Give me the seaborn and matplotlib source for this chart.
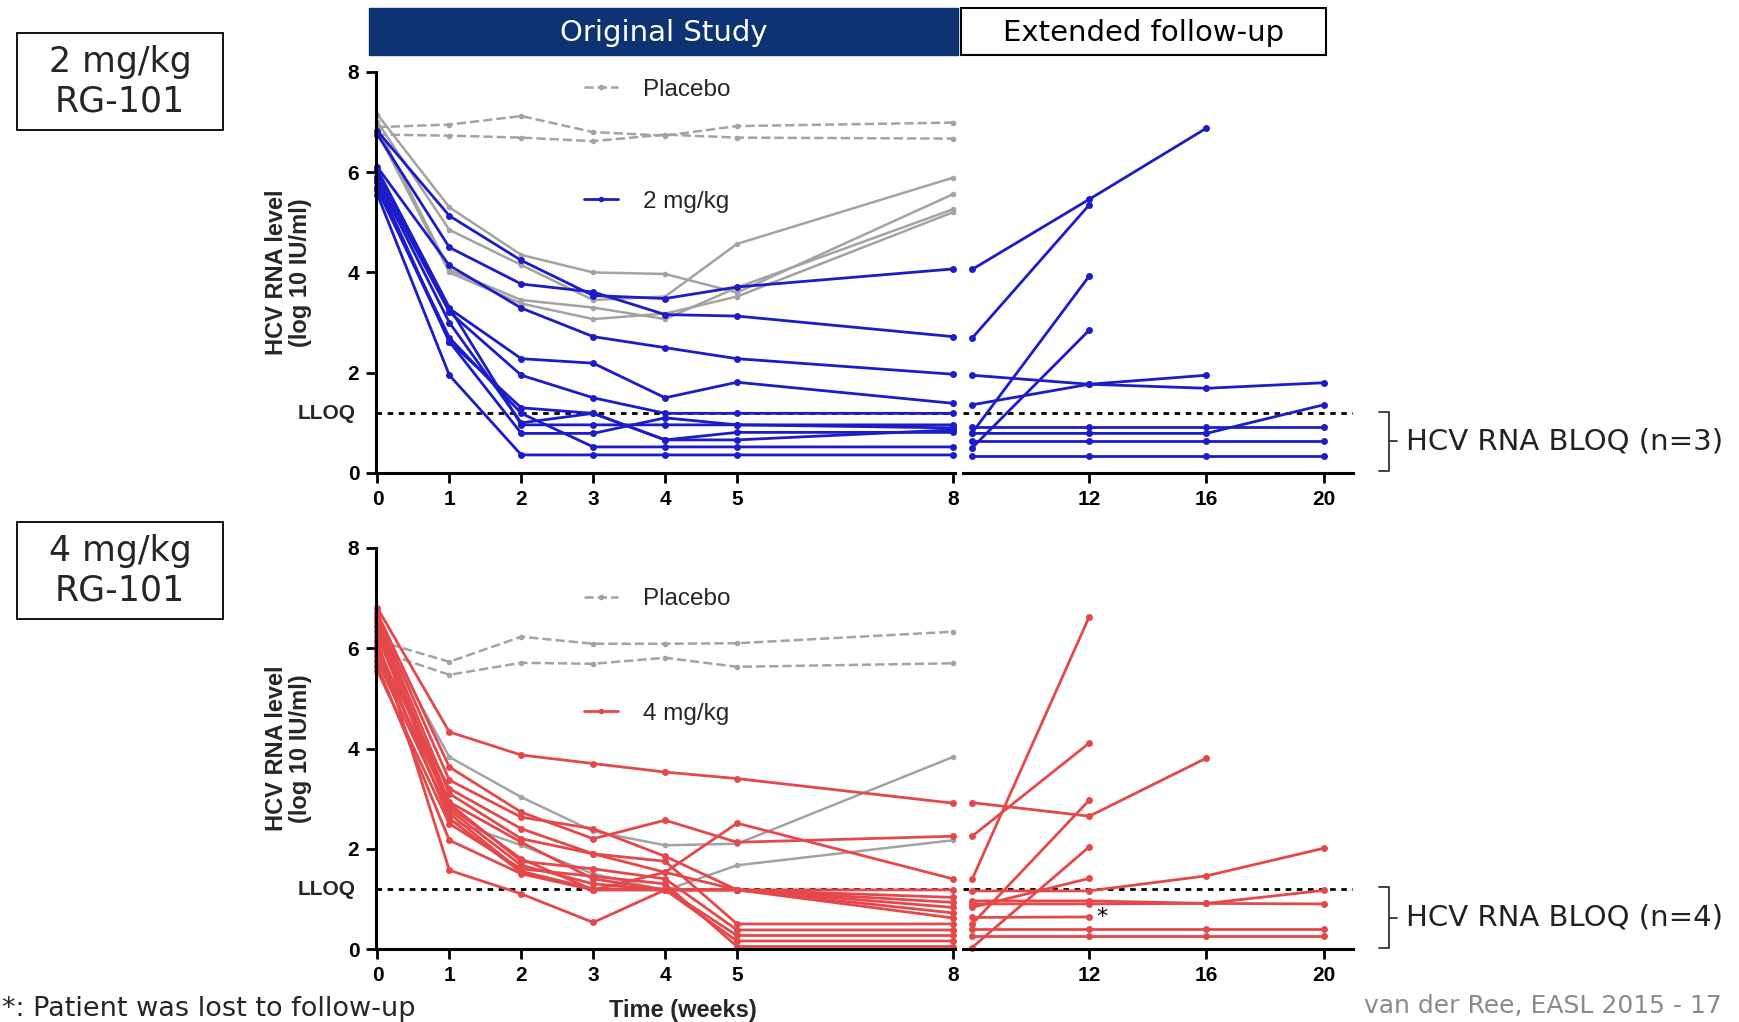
import numpy as np
import pandas as pd
import matplotlib
matplotlib.use("Agg")
import matplotlib.pyplot as plt
from matplotlib.lines import Line2D
from matplotlib.patches import Rectangle
import seaborn as sns

sns.set_theme(style="white")
plt.rcParams['font.family'] = ['DejaVu Sans']

# ---------------- data ----------------
WEEKS_MAIN = [0, 1, 2, 3, 4, 5, 8]
WEEKS_EXT = [8, 12, 16, 20]
YTICKS = [0, 2, 4, 6, 8]
LLOQ = 1.19

# 2 mg/kg panel
PLACEBO_2 = [
    [6.90, 6.95, 7.12, 6.80, 6.73, 6.92, 6.99],
    [6.75, 6.73, 6.69, 6.62, 6.75, 6.69, 6.67],
]
GRAY_2 = [
    [7.15, 5.30, 4.35, 4.00, 3.97, 3.60, 5.56],
    [7.00, 4.85, 4.15, 3.45, 3.52, 4.57, 5.89],
    [6.90, 4.05, 3.45, 3.30, 3.07, 3.70, 5.26],
    [6.80, 4.00, 3.38, 3.07, 3.18, 3.52, 5.20],
]
DOSE_2 = [
    [6.82, 5.13, 4.24, 3.54, 3.48, 3.71, 4.07],
    [6.75, 4.50, 3.77, 3.61, 3.16, 3.13, 2.72],
    [6.10, 4.14, 3.29, 2.72, 2.50, 2.28, 1.97],
    [6.00, 3.28, 2.28, 2.19, 1.50, 1.81, 1.39],
    [5.90, 3.21, 1.95, 1.50, 1.19, 1.19, 1.19],
    [5.80, 2.62, 1.30, 1.19, 0.66, 0.66, 0.86],
    [6.05, 3.30, 0.96, 0.96, 0.96, 0.96, 0.96],
    [5.70, 2.62, 0.79, 0.79, 1.10, 0.96, 0.90],
    [5.55, 1.95, 0.36, 0.36, 0.36, 0.36, 0.36],
    [5.65, 2.70, 1.19, 0.52, 0.52, 0.52, 0.52],
    [5.85, 3.00, 1.00, 1.19, 0.66, 0.81, 0.81],
]
EXT_2 = [
    [4.06, 5.46, 6.88, np.nan],
    [2.69, 5.35, np.nan, np.nan],
    [1.95, 1.77, 1.69, 1.80],
    [1.36, 1.77, 1.95, np.nan],
    [0.80, 3.93, np.nan, np.nan],
    [0.50, 2.85, np.nan, np.nan],
    [0.92, 0.92, 0.92, 0.92],
    [0.79, 0.79, 0.79, 1.36],
    [0.63, 0.63, 0.63, 0.63],
    [0.33, 0.33, 0.33, 0.33],
]

# 4 mg/kg panel
PLACEBO_4 = [
    [6.15, 5.73, 6.23, 6.09, 6.09, 6.10, 6.33],
    [5.95, 5.47, 5.71, 5.69, 5.81, 5.63, 5.70],
]
GRAY_4 = [
    [6.45, 3.83, 3.03, 2.35, 2.07, 2.10, 3.83],
    [6.10, 2.57, 2.07, 1.50, 1.17, 1.67, 2.17],
]
DOSE_4 = [
    [6.80, 4.33, 3.87, 3.70, 3.53, 3.40, 2.91],
    [6.70, 3.63, 2.73, 2.20, 2.57, 2.13, 2.25],
    [6.62, 3.37, 2.63, 2.40, 1.85, 1.18, 1.03],
    [6.55, 3.10, 2.20, 1.90, 1.53, 2.51, 1.40],
    [6.45, 2.93, 2.13, 1.40, 1.18, 1.18, 1.18],
    [6.35, 2.83, 1.80, 1.18, 1.53, 1.18, 0.93],
    [6.25, 2.77, 1.67, 1.30, 1.18, 1.18, 0.83],
    [6.15, 1.57, 1.10, 0.53, 1.18, 1.18, 0.72],
    [6.05, 2.60, 1.53, 1.18, 1.18, 1.18, 0.62],
    [5.95, 3.20, 2.40, 1.90, 1.75, 0.50, 0.50],
    [5.85, 2.90, 1.75, 1.60, 1.40, 0.38, 0.38],
    [5.75, 2.70, 1.55, 1.20, 1.20, 0.27, 0.27],
    [5.65, 2.17, 1.50, 1.18, 1.18, 0.16, 0.16],
    [5.55, 2.50, 1.60, 1.45, 1.30, 0.05, 0.05],
]
EXT_4 = [
    [2.92, 2.65, 3.81, np.nan],
    [1.39, 6.63, np.nan, np.nan],
    [2.25, 4.11, np.nan, np.nan],
    [0.50, 2.97, np.nan, np.nan],
    [0.03, 2.04, np.nan, np.nan],
    [0.83, 1.41, np.nan, np.nan],
    [1.16, 1.16, 1.46, 2.01],
    [0.96, 0.96, 0.91, 1.17],
    [0.63, 0.64, np.nan, np.nan],
    [0.90, 0.90, 0.91, 0.90],
    [0.40, 0.40, 0.40, 0.40],
    [0.25, 0.25, 0.25, 0.25],
]
LOST_POINT = (12, 0.64)

BLUE = "#1c1cc8"
RED = "#e5484b"
GRAY = "#a3a3a3"
NAVY = "#0d3372"
BOLD_FONT = ['Liberation Sans', 'DejaVu Sans']


def long_df(rows, weeks):
    recs = []
    for i, r in enumerate(rows):
        for w, v in zip(weeks, r):
            if not np.isnan(v):
                recs.append({"pid": i, "week": w, "value": v})
    return pd.DataFrame(recs)


def draw(ax, rows, weeks, color, dashed=False, lw=1.8, ms=4.5):
    df = long_df(rows, weeks)
    sns.lineplot(data=df, x="week", y="value", units="pid", estimator=None,
                 ax=ax, color=color, lw=lw, marker="o", markersize=ms,
                 markeredgewidth=0, linestyle="--" if dashed else "-",
                 legend=False, clip_on=False, sort=True)


fig = plt.figure(figsize=(17.39, 10.22), dpi=100)

panels = [
    dict(bottom=0.5372, placebo=PLACEBO_2, gray=GRAY_2, dose=DOSE_2, ext=EXT_2,
         color=BLUE, label="2 mg/kg", box="2 mg/kg\nRG-101", box_y=0.8728,
         bloq="HCV RNA BLOQ (n=3)", br_y=(412, 471), leg_y=(0.955, 0.676)),
    dict(bottom=0.0714, placebo=PLACEBO_4, gray=GRAY_4, dose=DOSE_4, ext=EXT_4,
         color=RED, label="4 mg/kg", box="4 mg/kg\nRG-101", box_y=0.3943,
         bloq="HCV RNA BLOQ (n=4)", br_y=(887, 948), leg_y=(0.872, 0.587)),
]

H = 0.3924
W, Hpx = 1739, 1022
for k, p in enumerate(panels):
    axL = fig.add_axes([376 / W, p["bottom"], 579 / W, H])
    axR = fig.add_axes([963 / W, p["bottom"], 390 / W, H])

    # dotted LLOQ
    axL.axhline(LLOQ, color="black", lw=2, ls=(0, (2, 2)), zorder=1)
    axR.axhline(LLOQ, color="black", lw=2, ls=(0, (2, 2)), zorder=1)

    draw(axL, p["placebo"], WEEKS_MAIN, GRAY, dashed=True, lw=1.8, ms=4)
    draw(axL, p["gray"], WEEKS_MAIN, GRAY, lw=1.8, ms=4)
    draw(axL, p["dose"], WEEKS_MAIN, p["color"], lw=2.0, ms=5)
    draw(axR, p["ext"], WEEKS_EXT, p["color"], lw=2.0, ms=5)

    for ax in (axL, axR):
        ax.set_facecolor("none")
        ax.set_ylim(0, 8)
        for s in ax.spines.values():
            s.set_visible(False)
        ax.spines["bottom"].set_visible(True)
        ax.spines["bottom"].set_linewidth(2.2)
        ax.spines["bottom"].set_color("black")
        ax.tick_params(axis="x", direction="out", length=7, width=2,
                       color="black", bottom=True, pad=5)
        ax.set_xlabel("")
        ax.set_ylabel("")
        ax.grid(False)
    axL.spines["left"].set_visible(True)
    axL.spines["left"].set_linewidth(2.2)
    axL.spines["left"].set_color("black")
    axL.tick_params(axis="y", direction="out", length=7, width=2,
                    color="black", left=True, pad=5)
    axR.tick_params(axis="y", left=False, labelleft=False)

    axL.set_xlim(-0.02, 8.03)
    axR.set_xlim(7.69, 21.0)

    axL.set_xticks(WEEKS_MAIN)
    axL.set_xticklabels([str(w) for w in WEEKS_MAIN])
    axR.set_xticks(WEEKS_EXT[1:])
    axR.set_xticklabels([str(w) for w in WEEKS_EXT[1:]])
    axL.set_yticks(YTICKS)
    axL.set_yticklabels([str(t) for t in YTICKS])
    for lab in axL.get_xticklabels() + axL.get_yticklabels() + axR.get_xticklabels():
        lab.set_fontfamily(BOLD_FONT)
        lab.set_fontweight("bold")
        lab.set_fontsize(15)
        lab.set_color("black")

    axL.set_ylabel("HCV RNA level\n(log 10 IU/ml)", fontfamily=BOLD_FONT,
                   fontweight="bold", fontsize=17, linespacing=1.05)
    axL.yaxis.set_label_coords(-0.11, 0.5)
    axL.text(-0.036, LLOQ, "LLOQ", transform=axL.get_yaxis_transform(),
             ha="right", va="center", fontfamily=BOLD_FONT,
             fontweight="bold", fontsize=15)

    # in-plot keys
    h1 = Line2D([], [], color=GRAY, lw=1.8, ls="--", marker="o", markersize=4,
                markeredgewidth=0, markevery=[1])
    leg1 = axL.legend([h1], ["Placebo"], loc="center left",
                      bbox_to_anchor=(0.36, p["leg_y"][0]), frameon=False,
                      handlelength=1.4, handletextpad=1.0, borderpad=0,
                      borderaxespad=0, prop={"family": BOLD_FONT, "size": 17.5})
    axL.add_artist(leg1)
    h2 = Line2D([], [], color=p["color"], lw=2.0, marker="o", markersize=4,
                markeredgewidth=0, markevery=[1])
    axL.legend([h2], [p["label"]], loc="center left",
               bbox_to_anchor=(0.36, p["leg_y"][1]), frameon=False,
               handlelength=1.4, handletextpad=1.0, borderpad=0,
               borderaxespad=0, prop={"family": BOLD_FONT, "size": 17.5})

    if k == 1:
        axR.text(LOST_POINT[0] + 0.25, LOST_POINT[1], "*", ha="left",
                 va="center", fontsize=16, color="black")
        axL.set_xlabel("Time (weeks)", fontfamily=BOLD_FONT,
                       fontweight="bold", fontsize=17)
        axL.xaxis.set_label_coords(0.53, -0.125)

    # dose box
    fig.patches.append(Rectangle((17 / W, p["box_y"]), 206 / W, 97 / Hpx,
                                 transform=fig.transFigure, fill=False,
                                 ec="black", lw=1.3))
    fig.text(120 / W, p["box_y"] + 48.5 / Hpx, p["box"], ha="center",
             va="center", fontsize=25, linespacing=1.2)

    # bracket
    y0 = 1 - p["br_y"][0] / Hpx
    y1 = 1 - p["br_y"][1] / Hpx
    ym = (y0 + y1) / 2
    xa, xb, xc = 1379 / W, 1389 / W, 1397 / W
    fig.lines.append(Line2D([xa, xb, xb, xa], [y0, y0, y1, y1],
                            transform=fig.transFigure, color="#333333", lw=1.3))
    fig.lines.append(Line2D([xb, xc], [ym, ym], transform=fig.transFigure,
                            color="#333333", lw=1.3))
    fig.text(1406 / W, ym, p["bloq"], ha="left", va="center", fontsize=21,
             color="#222222")

# header boxes
fig.patches.append(Rectangle((369 / W, 1 - 55 / Hpx), 589 / W, 47 / Hpx,
                             transform=fig.transFigure, fc=NAVY, ec=NAVY))
fig.text((369 + 589 / 2) / W, 1 - 33 / Hpx, "Original Study", ha="center",
         va="center", fontsize=21, color="white")
fig.patches.append(Rectangle((961 / W, 1 - 55 / Hpx), 365 / W, 47 / Hpx,
                             transform=fig.transFigure, fill=False,
                             ec="black", lw=1.5))
fig.text((961 + 365 / 2) / W, 1 - 33 / Hpx, "Extended follow-up",
         ha="center", va="center", fontsize=21, color="black")

fig.text(2 / W, 1 - 1009 / Hpx, "*: Patient was lost to follow-up",
         ha="left", va="center", fontsize=19.5)
fig.text(1722 / W, 1 - 1006 / Hpx, "van der Ree, EASL 2015 - 17",
         ha="right", va="center", fontsize=18, color="#8a8a8a")

fig.savefig("out.png", dpi=100, facecolor="white")
